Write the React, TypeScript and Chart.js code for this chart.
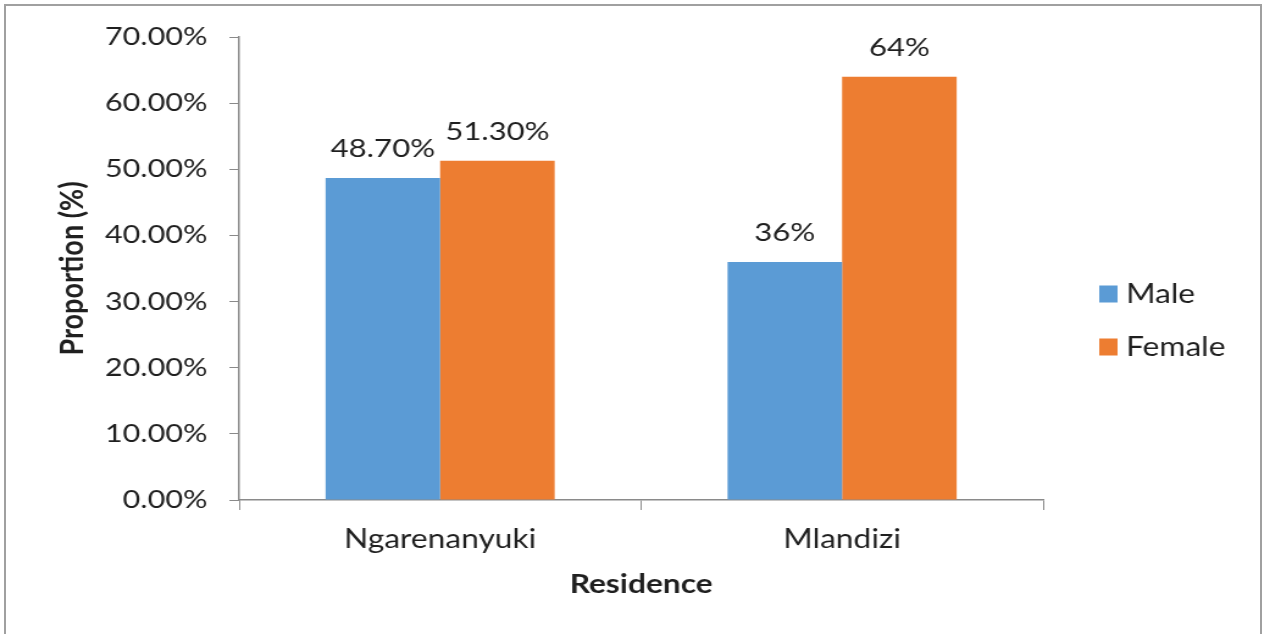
import React, { useEffect, useRef } from 'react';
import { Chart, registerables } from 'chart.js';

Chart.register(...registerables);

const categories = ['Ngarenanyuki', 'Mlandizi'];
const seriesNames = ['Male', 'Female'];
const maleValues = [48.7, 36];
const femaleValues = [51.3, 64];
const maleLabels = ['48.70%', '36%'];
const femaleLabels = ['51.30%', '64%'];
const seriesColors = ['#5B9BD5', '#ED7D31'];
const yMin = 0;
const yMax = 70;
const yStep = 10;
const xTitle = 'Residence';
const yTitle = 'Proportion (%)';

const STRETCH = 1.22;
const FULL_W = 1266;
const FULL_H = 634;
const W = Math.round(FULL_W / STRETCH);
const FONT = 'Lato, Carlito, Calibri, sans-serif';
const TEXT = '#1f1f1f';
const AXIS = '#8a8a8a';

const valueLabelPlugin = {
  id: 'valueLabels',
  afterDatasetsDraw(chart: any) {
    const ctx = chart.ctx;
    ctx.save();
    ctx.font = `25.5px ${FONT}`;
    ctx.fillStyle = TEXT;
    ctx.textAlign = 'center';
    ctx.textBaseline = 'middle';
    chart.data.datasets.forEach((ds: any, di: number) => {
      const meta = chart.getDatasetMeta(di);
      meta.data.forEach((el: any, i: number) => {
        const txt = ds.valueLabels[i];
        ctx.fillText(txt, el.x, el.y - 29);
      });
    });
    ctx.restore();
  },
};

const legendPlugin = {
  id: 'customLegend',
  afterDraw(chart: any) {
    const ctx = chart.ctx;
    ctx.save();
    ctx.font = `26px ${FONT}`;
    ctx.textAlign = 'left';
    ctx.textBaseline = 'middle';
    const boxX = chart.chartArea.right + 46;
    const startY = 294;
    const gap = 53;
    chart.data.datasets.forEach((ds: any, i: number) => {
      const cy = startY + i * gap;
      ctx.fillStyle = ds.backgroundColor;
      ctx.fillRect(boxX, cy - 8.5, 15, 17);
      ctx.fillStyle = TEXT;
      ctx.fillText(ds.label, boxX + 22, cy + 1);
    });
    ctx.restore();
  },
};

export default function App() {
  const canvasRef = useRef<HTMLCanvasElement | null>(null);

  useEffect(() => {
    if (!canvasRef.current) return;
    const chart = new Chart(canvasRef.current, {
      type: 'bar',
      data: {
        labels: categories,
        datasets: [
          {
            label: seriesNames[0],
            data: maleValues,
            backgroundColor: seriesColors[0],
            valueLabels: maleLabels,
            categoryPercentage: 0.57,
            barPercentage: 1,
          } as any,
          {
            label: seriesNames[1],
            data: femaleValues,
            backgroundColor: seriesColors[1],
            valueLabels: femaleLabels,
            categoryPercentage: 0.57,
            barPercentage: 1,
          } as any,
        ],
      },
      options: {
        animation: false,
        responsive: false,
        maintainAspectRatio: false,
        devicePixelRatio: 1,
        layout: {
          padding: { top: 37, bottom: 0, left: 0, right: W - Math.round(1043 / STRETCH) },
        },
        plugins: {
          legend: { display: false },
          tooltip: { enabled: false },
        },
        scales: {
          x: {
            afterFit(scale: any) {
              scale.height = FULL_H - 500;
            },
            grid: {
              display: true,
              drawOnChartArea: false,
              drawTicks: true,
              tickLength: 10,
              color: AXIS,
              offset: true,
            },
            border: { display: true, color: AXIS, width: 1.5 },
            ticks: {
              color: TEXT,
              font: { family: FONT, size: 26 },
              padding: 14,
            },
            title: {
              display: true,
              text: xTitle,
              color: TEXT,
              font: { family: FONT, size: 26, weight: 'bold' },
              padding: { top: 0, bottom: 34 },
            },
          },
          y: {
            min: yMin,
            max: yMax,
            afterFit(scale: any) {
              scale.width = Math.round(239 / STRETCH);
            },
            ticks: {
              stepSize: yStep,
              color: TEXT,
              font: { family: FONT, size: 25 },
              padding: 18,
              callback: (v: any) => Number(v).toFixed(2) + '%',
            },
            grid: {
              display: true,
              drawOnChartArea: false,
              drawTicks: true,
              tickLength: 8,
              color: AXIS,
            },
            border: { display: true, color: AXIS, width: 1.5 },
            title: {
              display: true,
              text: yTitle,
              color: TEXT,
              font: { family: FONT, size: 27, weight: 'bold' },
              padding: { top: 43, bottom: 0 },
            },
          },
        },
      } as any,
      plugins: [valueLabelPlugin, legendPlugin],
    });
    return () => chart.destroy();
  }, []);

  return (
    <div
      style={{
        position: 'fixed',
        left: 0,
        top: 0,
        width: FULL_W,
        height: FULL_H,
        background: '#fff',
        overflow: 'hidden',
      }}
    >
      <div
        style={{
          position: 'absolute',
          left: 0,
          top: 0,
          width: W,
          height: FULL_H,
          transform: `scaleX(${STRETCH})`,
          transformOrigin: '0 0',
        }}
      >
        <canvas ref={canvasRef} width={W} height={FULL_H} style={{ display: 'block' }} />
      </div>
      <div
        style={{
          position: 'absolute',
          left: 4,
          top: 4,
          width: 1258,
          height: 640,
          borderLeft: '2px solid #a0a0a0',
          borderTop: '2px solid #a0a0a0',
          borderRight: '2px solid #a0a0a0',
          boxSizing: 'border-box',
          pointerEvents: 'none',
        }}
      />
    </div>
  );
}
